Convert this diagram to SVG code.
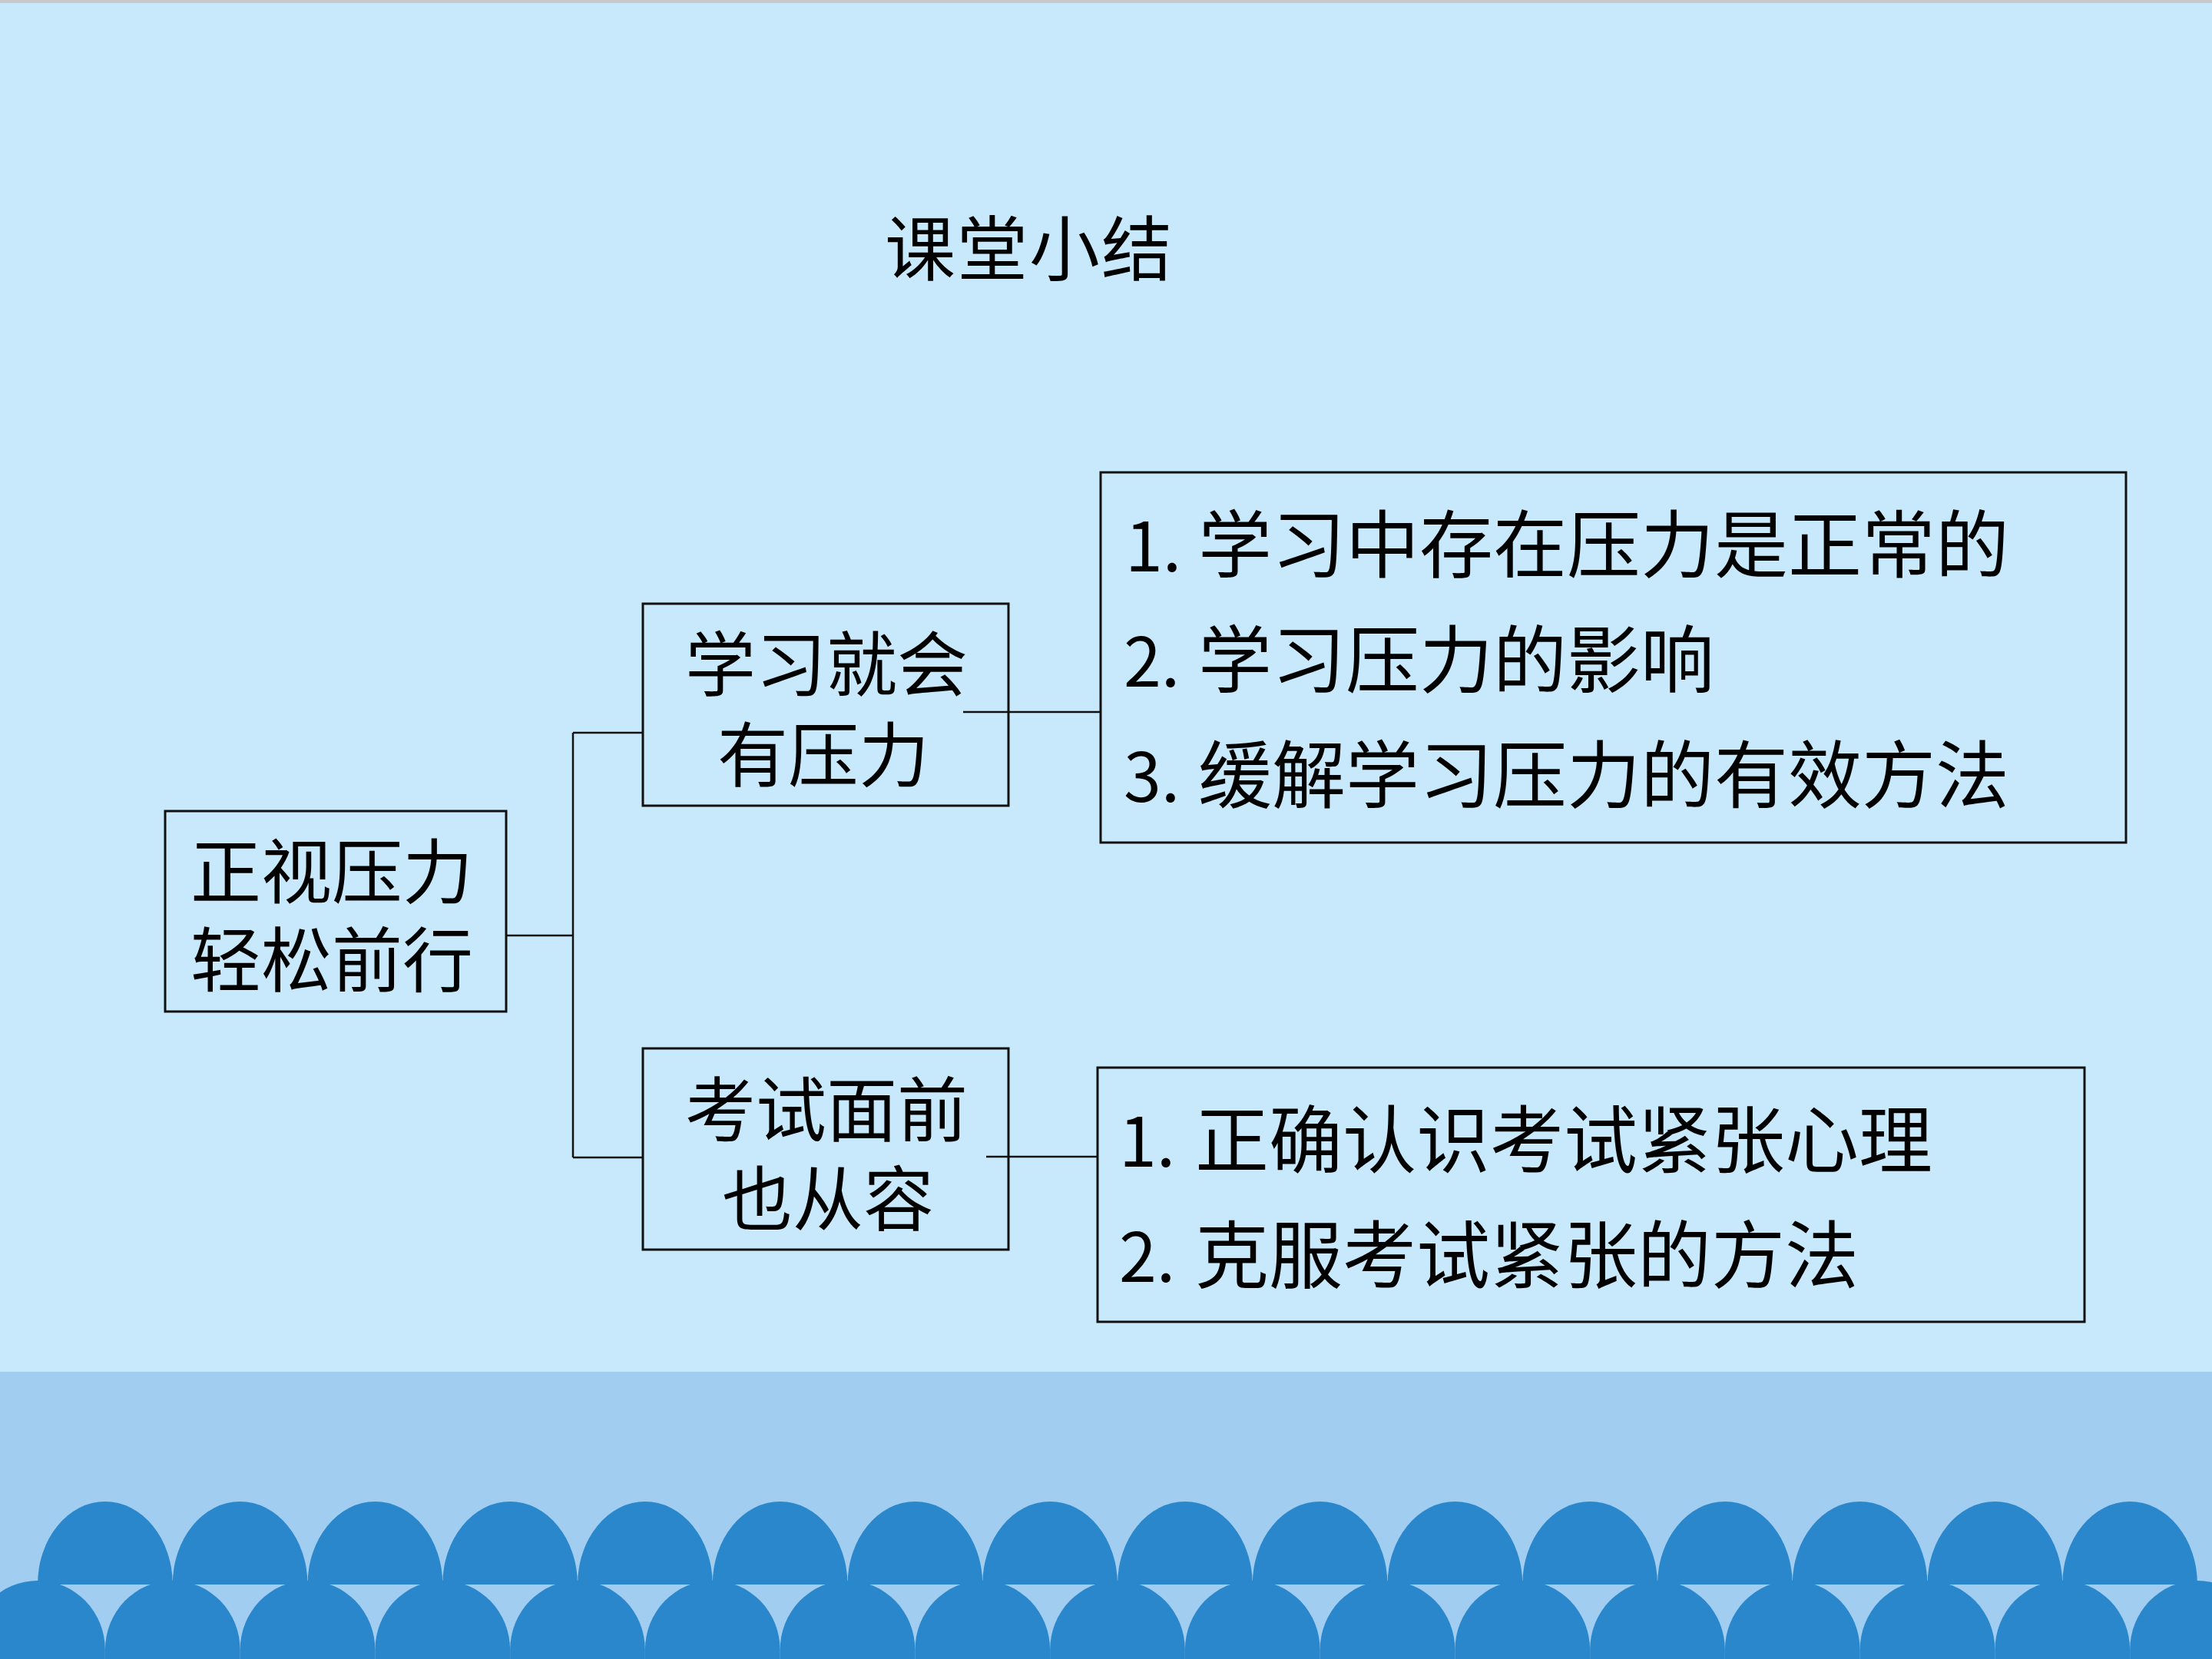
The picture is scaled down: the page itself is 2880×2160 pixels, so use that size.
<svg xmlns="http://www.w3.org/2000/svg" xmlns:xlink="http://www.w3.org/1999/xlink" width="2880" height="2160" viewBox="0 0 2880 2160">
<style>
.bg{fill:#C7E9FB}
.band{fill:#A0CDF0}
.arch{fill:#2A87CB}
.box{fill:none;stroke:#111;stroke-width:3}
.conn{fill:none;stroke:#111;stroke-width:2.5}
.t{font-family:"Noto Sans CJK SC","Liberation Sans",sans-serif;fill:#000}
.node{font-size:92px;text-anchor:middle;letter-spacing:0}
.item{font-size:96px}
.num{font-size:88px}
</style>
<defs>
<path id="archTop" d="M -87.875 2063 A 87.875 108 0 0 1 87.875 2063 Z"/>
<path id="archBot" d="M -87.875 2148 A 87.875 90 0 0 1 87.875 2148 L 87.875 2165 L -87.875 2165 Z"/>
</defs>
<rect class="bg" x="0" y="0" width="2880" height="2160"/>
<rect x="0" y="0" width="2880" height="4" fill="#C8C8C8"/>
<g id="footer">
<rect class="band" x="0" y="1786" width="2880" height="374"/>
<g class="arch">
<use xlink:href="#archTop" x="136.9"/><use xlink:href="#archTop" x="312.6"/><use xlink:href="#archTop" x="488.4"/><use xlink:href="#archTop" x="664.1"/>
<use xlink:href="#archTop" x="839.9"/><use xlink:href="#archTop" x="1015.6"/><use xlink:href="#archTop" x="1191.4"/><use xlink:href="#archTop" x="1367.1"/>
<use xlink:href="#archTop" x="1542.9"/><use xlink:href="#archTop" x="1718.6"/><use xlink:href="#archTop" x="1894.4"/><use xlink:href="#archTop" x="2070.1"/>
<use xlink:href="#archTop" x="2245.9"/><use xlink:href="#archTop" x="2421.6"/><use xlink:href="#archTop" x="2597.4"/><use xlink:href="#archTop" x="2773.1"/>
<use xlink:href="#archBot" x="49"/><use xlink:href="#archBot" x="224.75"/><use xlink:href="#archBot" x="400.5"/><use xlink:href="#archBot" x="576.25"/>
<use xlink:href="#archBot" x="752"/><use xlink:href="#archBot" x="927.75"/><use xlink:href="#archBot" x="1103.5"/><use xlink:href="#archBot" x="1279.25"/>
<use xlink:href="#archBot" x="1455"/><use xlink:href="#archBot" x="1630.75"/><use xlink:href="#archBot" x="1806.5"/><use xlink:href="#archBot" x="1982.25"/>
<use xlink:href="#archBot" x="2158"/><use xlink:href="#archBot" x="2333.75"/><use xlink:href="#archBot" x="2509.5"/><use xlink:href="#archBot" x="2685.25"/>
<use xlink:href="#archBot" x="2861"/>
</g>
</g>
<text id="title" class="t" x="1340" y="358" font-size="92" text-anchor="middle" letter-spacing="2">课堂小结</text>
<g id="connectors">
<path class="conn" d="M 659 1218 H 746 M 746 954 V 1507 M 746 954 H 837 M 746 1507 H 837"/>
<path class="conn" d="M 1254 927 H 1433"/>
<path class="conn" d="M 1284 1506 H 1429"/>
</g>
<g id="node-root">
<rect class="box" x="215" y="1056" width="444" height="261"/>
<text class="t node" x="432" y="1169">正视压力</text>
<text class="t node" x="432" y="1284">轻松前行</text>
</g>
<g id="node-study">
<rect class="box" x="837" y="786" width="476" height="263"/>
<text class="t node" x="1076" y="899">学习就会</text>
<text class="t node" x="1072" y="1017">有压力</text>
</g>
<g id="node-exam">
<rect class="box" x="837" y="1365" width="476" height="262"/>
<text class="t node" x="1076" y="1479">考试面前</text>
<text class="t node" x="1078" y="1595">也从容</text>
</g>
<g id="list-study">
<rect class="box" x="1433" y="615" width="1335" height="482"/>
<text class="t item" y="744"><tspan class="num" x="1465">1.</tspan><tspan x="1560">学习中存在压力是正常的</tspan></text>
<text class="t item" y="894"><tspan class="num" x="1463">2.</tspan><tspan x="1560">学习压力的影响</tspan></text>
<text class="t item" y="1044"><tspan class="num" x="1463">3.</tspan><tspan x="1560">缓解学习压力的有效方法</tspan></text>
</g>
<g id="list-exam">
<rect class="box" x="1429" y="1390" width="1285" height="331"/>
<text class="t item" y="1519"><tspan class="num" x="1457">1.</tspan><tspan x="1556">正确认识考试紧张心理</tspan></text>
<text class="t item" y="1669"><tspan class="num" x="1457">2.</tspan><tspan x="1556">克服考试紧张的方法</tspan></text>
</g>
</svg>
